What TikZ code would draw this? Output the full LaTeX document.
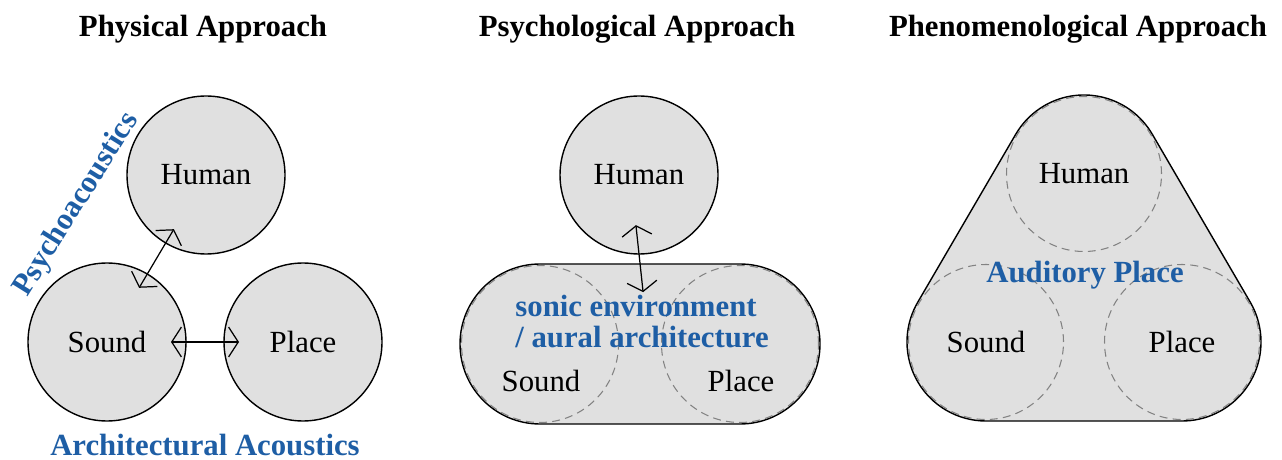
\documentclass[tikz,border=0pt]{standalone}
\usepackage{fontspec}
\setmainfont{Liberation Serif}
\usepackage{tikz}
\usepackage{xcolor}
\definecolor{AcouBlue}{RGB}{30,94,165}
\definecolor{FillGray}{RGB}{224,224,224}
\definecolor{DashGray}{RGB}{130,130,130}
\usetikzlibrary{arrows.meta,shapes.misc,backgrounds}

\begin{document}
\begin{tikzpicture}[font=\fontsize{17.5}{21}\selectfont,
  disc/.style={circle, draw, line width=0.8pt, fill=FillGray, minimum size=3.16cm, inner sep=0pt, outer sep=0pt},
  ghost/.style={circle, draw=DashGray, line width=0.6pt, dash pattern=on 4.5pt off 3pt, minimum size=3.1cm, inner sep=0pt, outer sep=0.03cm},
  blob/.style={draw, line width=0.8pt, fill=FillGray},
  bluetext/.style={text=AcouBlue, font=\fontsize{17.5}{21}\selectfont\bfseries},
  heading/.style={anchor=base, font=\fontsize{17.5}{21}\selectfont\bfseries},
  biarrow/.style={{Straight Barb[length=5.5pt,width=17pt]}-{Straight Barb[length=5.5pt,width=17pt]}, line width=0.7pt}]

\useasboundingbox (0,0) rectangle (25.64,9.18);

\node[heading] (title1) at (4.06,8.44) {Physical Approach};
\node[heading] (title2) at (12.74,8.44) {Psychological Approach};
\node[heading] (title3) at (21.56,8.44) {Phenomenological Approach};

% physical
\node[disc] (human1) at (4.12,5.68) {Human};
\node[disc] (sound1) at (2.14,2.34) {Sound};
\node[disc] (place1) at (6.06,2.34) {Place};
\draw[biarrow, shorten >=-0.32cm, shorten <=-0.32cm] (sound1) -- (human1);
\draw[biarrow, shorten >=-0.3cm, shorten <=-0.3cm] (sound1) -- (place1);
\node[bluetext, rotate=58] (psycho) at (1.53,5.08) {Psychoacoustics};
\node[bluetext, anchor=base] (archi) at (4.10,0.08) {Architectural Acoustics};

% psychological
\node[disc] (human2) at (12.78,5.68) {Human};
\node[rounded rectangle, blob, minimum width=7.2cm, minimum height=3.2cm, inner sep=0pt] (env) at (12.80,2.30) {};
\node[ghost, minimum size=3.14cm] (sound2) at (10.80,2.30) {};
\node[ghost, minimum size=3.14cm] (place2) at (14.80,2.30) {};
\draw[biarrow, shorten >=-0.58cm, shorten <=-0.58cm] (env.north) -- (human2.south);
\node[bluetext, anchor=base] (sonic) at (12.72,2.84) {sonic environment};
\node[bluetext, anchor=base] (aural) at (12.84,2.22) {/ aural architecture};
\node[anchor=base] (soundlbl2) at (10.82,1.34) {Sound};
\node[anchor=base] (placelbl2) at (14.82,1.34) {Place};

% phenomenological
\node[ghost] (human3) at (21.68,5.70) {Human};
\node[ghost] (sound3) at (19.72,2.34) {Sound};
\node[ghost] (place3) at (23.64,2.34) {Place};
\begin{scope}[on background layer]
\draw[blob] (sound3.south) -- (place3.south) arc[start angle=-90, end angle=30, radius=1.58cm]
  -- (human3.30) arc[start angle=30, end angle=150, radius=1.58cm]
  -- (sound3.150) arc[start angle=150, end angle=270, radius=1.58cm] -- cycle;
\end{scope}
\node[bluetext, anchor=base] (audplace) at (21.70,3.52) {Auditory Place};
\end{tikzpicture}
\end{document}
